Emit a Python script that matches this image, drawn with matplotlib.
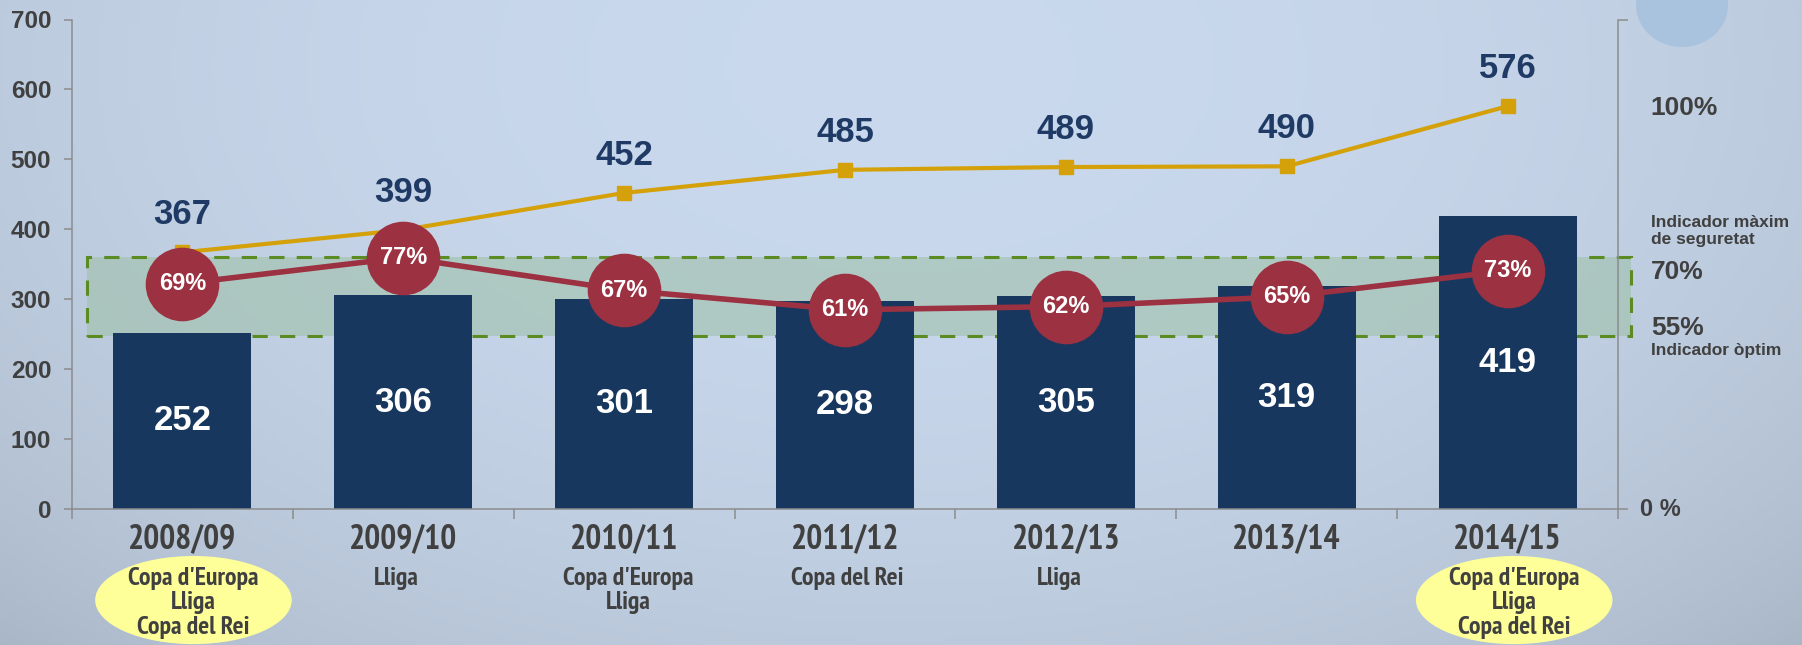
import numpy as np
import matplotlib.pyplot as plt
import matplotlib.font_manager as fm
from matplotlib.patches import Ellipse, Rectangle

# Data
seasons = ["2008/09", "2009/10", "2010/11", "2011/12", "2012/13", "2013/14", "2014/15"]
titles = [
    "Copa d'Europa\nLliga\nCopa del Rei",
    "Lliga",
    "Copa d'Europa\nLliga",
    "Copa del Rei",
    "Lliga",
    "",
    "Copa d'Europa\nLliga\nCopa del Rei",
]
highlighted = [True, False, False, False, False, False, True]
bar_values = [252, 306, 301, 298, 305, 319, 419]
line_values = [367, 399, 452, 485, 489, 490, 576]
pct_values = [69, 77, 67, 61, 62, 65, 73]
band_low, band_high = 247, 360

# Styling
NAVY = "#17375E"
GOLD = "#D4A10A"
RED = "#9B3141"
GREY_TXT = "#404040"
AXIS_GREY = "#8C8C8C"
SANS = ["Liberation Sans", "DejaVu Sans"]

# pick a narrow font that has a bold face, whatever is installed
bold_fonts = {f.name for f in fm.fontManager.ttflist
              if isinstance(f.weight, int) and f.weight >= 600 or f.weight == "bold"}
narrow_candidates = ["Liberation Sans Narrow", "Arial Narrow", "Archivo Narrow",
                     "PT Sans Narrow", "Roboto Condensed", "Fira Sans Condensed",
                     "IBM Plex Sans Condensed", "Open Sans Condensed",
                     "Encode Sans Condensed", "Barlow Semi Condensed",
                     "Barlow Condensed", "Asap Condensed", "Saira Condensed",
                     "Sofia Sans Condensed", "Encode Sans Semi Condensed"]
NARROW = [n for n in narrow_candidates if n in bold_fonts][:1] + SANS

W, H = 1802, 645
fig = plt.figure(figsize=(W / 100, H / 100), dpi=100)
renderer = fig.canvas.get_renderer()


def fit_size(text, family, target_px, start=20):
    t = fig.text(0, 0, text, fontsize=start, fontweight="bold", family=family)
    width = t.get_window_extent(renderer).width
    t.remove()
    return start * target_px / width


year_size = fit_size("2008/09", NARROW, 109)
sub_size = fit_size("Copa d'Europa", NARROW, 131)

# Background gradient (pixel coordinates)
bg = fig.add_axes([0, 0, 1, 1], zorder=-10)
xx, yy = np.meshgrid(np.linspace(0, 1, 400), np.linspace(0, 1, 150))
w = 1 - ((xx - 0.5) / 0.75) ** 2 - ((yy - 0.1) / 1.3) ** 2
w = np.clip(w, 0, 1) ** 0.7
light = np.array([0.79, 0.85, 0.93])
dark = np.array([0.64, 0.69, 0.75])
img = dark + (light - dark) * w[..., None]
bg.imshow(img, extent=[0, W, H, 0], aspect="auto")
bg.add_patch(Ellipse((1682, 5), 92, 84, color="#A9C3DE", lw=0))
bg.set_xlim(0, W)
bg.set_ylim(H, 0)
bg.axis("off")

# Main axes
ax = fig.add_axes([72 / W, 1 - 509 / H, 1546 / W, 489.5 / H])
ax.set_facecolor("none")
x = np.arange(len(seasons))

ax.add_patch(Rectangle((-0.43, band_low), 6.99, band_high - band_low,
                       facecolor="#9FC0AA", alpha=0.6, edgecolor="none",
                       zorder=1, clip_on=False))
ax.add_patch(Rectangle((-0.43, band_low), 6.99, band_high - band_low,
                       facecolor="none", edgecolor="#5B8C24", lw=2.2,
                       ls=(0, (5, 4)), zorder=1.1, clip_on=False))

ax.bar(x, bar_values, width=0.625, color=NAVY, zorder=2)
for xi, v in zip(x, bar_values):
    ax.text(xi, v / 2, str(v), ha="center", va="center", color="white",
            fontsize=25, fontweight="bold", family=SANS, zorder=3)

ax.plot(x, line_values, color=GOLD, lw=3, marker="s", markersize=9.5, zorder=4)
for xi, v in zip(x, line_values):
    ax.annotate(str(v), (xi, v), xytext=(0, 27), textcoords="offset points",
                ha="center", va="center", color="#1F3A64", fontsize=25,
                fontweight="bold", family=SANS)

ax.set_xlim(-0.5, 6.5)
ax.set_ylim(0, 700)
ax.set_yticks(range(0, 701, 100))
ax.set_yticklabels([str(v) for v in range(0, 701, 100)], fontsize=17.5,
                   fontweight="bold", color=GREY_TXT, family=SANS)
ax.set_xticks(np.arange(-0.5, 7, 1))
ax.set_xticklabels([])
ax.tick_params(axis="y", length=6, width=1.1, color=AXIS_GREY, pad=9)
ax.tick_params(axis="x", length=7, width=1.1, color=AXIS_GREY)
for side in ["top", "right"]:
    ax.spines[side].set_visible(False)
for side in ["left", "bottom"]:
    ax.spines[side].set_color(AXIS_GREY)
    ax.spines[side].set_linewidth(1.1)

# Percentage line on secondary axis
ax2 = ax.twinx()
ax2.set_ylim(0, 700 / 4.67)
ax2.plot(x, pct_values, color=RED, lw=4, marker="o", markersize=53,
         markeredgewidth=0, zorder=5)
for xi, p in zip(x, pct_values):
    ax2.text(xi, p, f"{p}%", ha="center", va="center", color="white",
             fontsize=17, fontweight="bold", family=SANS, zorder=6)
ax2.set_yticks([0, 700 / 4.67])
ax2.set_yticklabels([])
ax2.tick_params(axis="y", length=7, width=1.1, color=AXIS_GREY)
for side in ["top", "left", "bottom"]:
    ax2.spines[side].set_visible(False)
ax2.spines["right"].set_color(AXIS_GREY)
ax2.spines["right"].set_linewidth(1.1)

# Category labels under the axis
tr = ax.get_xaxis_transform()
title_dx = [0.05, -0.03, 0.02, 0.01, -0.03, 0.0, 0.03]
for xi, s, t, hl, dx in zip(x, seasons, titles, highlighted, title_dx):
    ax.text(xi, -0.061, s, transform=tr, ha="center", va="center",
            fontsize=year_size, fontweight="bold", color=GREY_TXT, family=NARROW)
    if hl:
        ax.add_patch(Ellipse((xi + dx, -0.186), 0.89, 0.18, transform=tr,
                             facecolor="#FFFF99", edgecolor="none",
                             clip_on=False, zorder=1))
    if t:
        ax.text(xi + dx, -0.118, t, transform=tr, ha="center", va="top",
                fontsize=sub_size, fontweight="bold", color=GREY_TXT,
                family=NARROW, linespacing=1.08, zorder=2)


# Right-hand indicator labels
def ftext(px, py, s, size, **kw):
    fig.text(px / W, 1 - py / H, s, ha="left", va="center", fontsize=size,
             fontweight="bold", color=GREY_TXT, family=SANS, **kw)


ftext(1650, 108, "100%", 19)
ftext(1651, 231, "Indicador màxim\nde seguretat", 12.5, linespacing=1.2)
ftext(1651, 272, "70%", 19)
ftext(1651, 328, "55%", 19)
ftext(1651, 350, "Indicador òptim", 12.5)
ftext(1640, 510, "0 %", 17)

fig.savefig("out.png", dpi=100)
